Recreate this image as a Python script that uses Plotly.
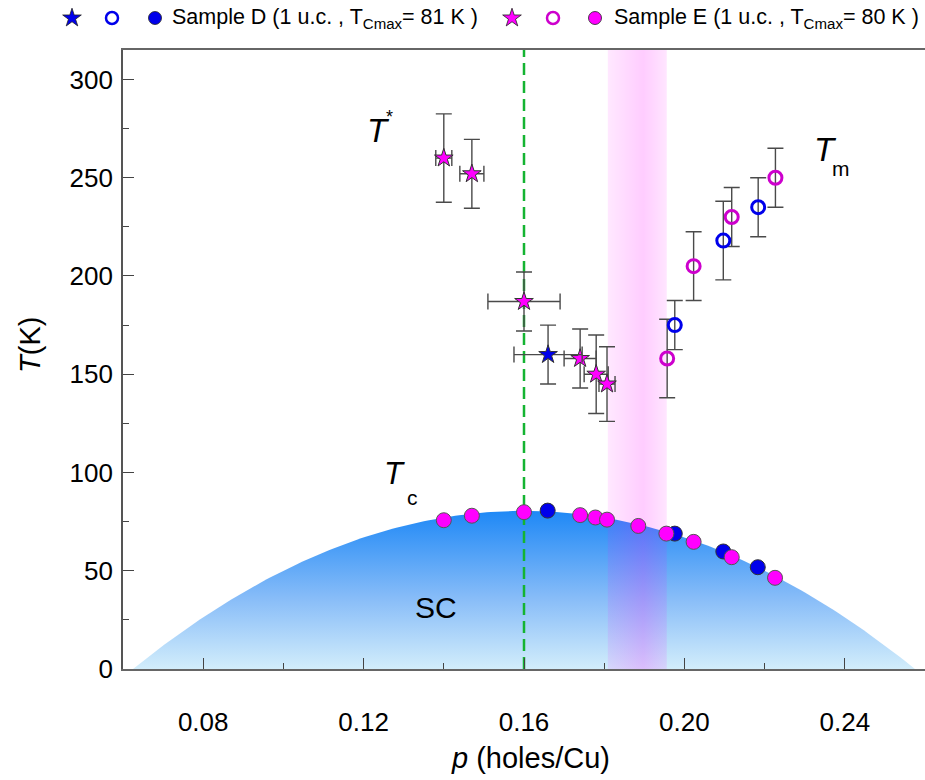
import plotly.graph_objects as go
import numpy as np

# ---------------- data ----------------
# T* (pseudogap) – stars
tstar_E_p = [0.140, 0.147, 0.160, 0.174, 0.178, 0.1807]
tstar_E_T = [260, 252, 187, 158, 150, 145]
tstar_E_dT = [22.5, 17.5, 15, 15, 20, 19]
tstar_E_dp = [0.002, 0.003, 0.009, 0.004, 0.003, 0.002]

tstar_D_p = [0.166]
tstar_D_T = [160]
tstar_D_dT = [15]
tstar_D_dp = [0.0085]

# Tm – open circles
tm_E_p = [0.1957, 0.2023, 0.2118, 0.2227]
tm_E_T = [158, 205, 230, 250]
tm_E_dT = [20, 17.5, 15, 15]

tm_D_p = [0.1976, 0.2097, 0.2184]
tm_D_T = [175, 218, 235]
tm_D_dT = [12.5, 20, 15]

# Tc – filled circles
tc_E_p = [0.140, 0.147, 0.160, 0.174, 0.1778, 0.1807, 0.1885, 0.1955, 0.2023, 0.2118, 0.2226]
tc_E_T = [75.7, 78, 79.8, 78.3, 77.1, 76, 72.8, 68.9, 64.7, 56.9, 46.4]
tc_D_p = [0.1659, 0.1976, 0.2097, 0.2183]
tc_D_T = [80.6, 68.9, 59.8, 51.8]

# SC dome (Tc = Tcmax [1 - ((p - p_opt)/w)^2])
dome_Tcmax = 80.5
dome_popt = 0.16
dome_halfwidth = 0.0975

# shaded band and dashed line
band_p = [0.1809, 0.1956]
dashed_p = 0.16

x_ticks = [0.08, 0.12, 0.16, 0.20, 0.24]
x_ticklabels = ["0.08", "0.12", "0.16", "0.20", "0.24"]
y_ticks = [0, 50, 100, 150, 200, 250, 300]

X_RANGE = [0.06, 0.26]
Y_RANGE = [0, 315]

W, H = 925, 780
L, R, T, B = 123, 925, 50, 669  # plot area pixel box

BLUE = "rgb(0,0,235)"
MAG = "rgb(255,0,255)"
MAG_OPEN = "rgb(205,0,205)"
EB = "#4a4a4a"

fig = go.Figure()

# SC dome
pd_ = np.linspace(dome_popt - dome_halfwidth, dome_popt + dome_halfwidth, 200)
td_ = dome_Tcmax * (1 - ((pd_ - dome_popt) / dome_halfwidth) ** 2)
fig.add_trace(go.Scatter(
    x=list(pd_) + [pd_[-1], pd_[0]], y=list(td_) + [0, 0],
    mode="lines", line=dict(width=0), fill="toself",
    fillgradient=dict(type="vertical", start=0, stop=dome_Tcmax,
                      colorscale=[[0, "rgb(210,237,251)"], [0.45, "rgb(135,188,248)"],
                                  [1, "rgb(30,136,246)"]]),
    hoverinfo="skip", showlegend=False))

# pink band
fig.add_trace(go.Scatter(
    x=[band_p[0], band_p[1], band_p[1], band_p[0], band_p[0]],
    y=[Y_RANGE[0], Y_RANGE[0], Y_RANGE[1], Y_RANGE[1], Y_RANGE[0]],
    mode="lines", line=dict(width=0), fill="toself",
    fillgradient=dict(type="horizontal", start=band_p[0], stop=band_p[1],
                      colorscale=[[0, "rgba(255,0,255,0.09)"], [0.6, "rgba(255,0,255,0.2)"],
                                  [1, "rgba(255,0,255,0.10)"]]),
    hoverinfo="skip", showlegend=False))

# dashed green line
fig.add_trace(go.Scatter(
    x=[dashed_p, dashed_p], y=Y_RANGE, mode="lines",
    line=dict(color="rgb(20,180,50)", width=2.5, dash="12px,6px"),
    hoverinfo="skip", showlegend=False))

eb_y = lambda arr: dict(type="data", array=arr, color=EB, thickness=1.4, width=8)

# Tm open circles
fig.add_trace(go.Scatter(x=tm_E_p, y=tm_E_T, mode="markers",
                         error_y=eb_y(tm_E_dT),
                         marker=dict(symbol="circle-open", size=13, color=MAG_OPEN, line=dict(width=3, color=MAG_OPEN)),
                         showlegend=False))
fig.add_trace(go.Scatter(x=tm_D_p, y=tm_D_T, mode="markers",
                         error_y=eb_y(tm_D_dT),
                         marker=dict(symbol="circle-open", size=13, color=BLUE, line=dict(width=3, color=BLUE)),
                         showlegend=False))

# T* stars
fig.add_trace(go.Scatter(x=tstar_E_p, y=tstar_E_T, mode="markers",
                         error_y=eb_y(tstar_E_dT), error_x=eb_y(tstar_E_dp),
                         marker=dict(symbol="star", size=14, color=MAG, line=dict(width=1, color="#333")),
                         showlegend=False))
fig.add_trace(go.Scatter(x=tstar_D_p, y=tstar_D_T, mode="markers",
                         error_y=eb_y(tstar_D_dT), error_x=eb_y(tstar_D_dp),
                         marker=dict(symbol="star", size=14, color=BLUE, line=dict(width=1, color="#333")),
                         showlegend=False))

# Tc filled circles
fig.add_trace(go.Scatter(x=tc_D_p, y=tc_D_T, mode="markers",
                         marker=dict(symbol="circle", size=15, color=BLUE, line=dict(width=1, color="#333")),
                         showlegend=False))
fig.add_trace(go.Scatter(x=tc_E_p, y=tc_E_T, mode="markers",
                         marker=dict(symbol="circle", size=15, color=MAG, line=dict(width=1, color="#555")),
                         showlegend=False))

# ---------- legend row (pixel overlay axes) ----------
leg_y = 18
leg_syms = [("star", BLUE, 72, 14), ("circle-open", BLUE, 112, 12), ("circle", BLUE, 155, 13),
            ("star", MAG, 512, 14), ("circle-open", MAG_OPEN, 553, 12), ("circle", MAG, 595, 13)]
for sym, col, px, sz in leg_syms:
    fig.add_trace(go.Scatter(
        x=[px], y=[leg_y], xaxis="x2", yaxis="y2", mode="markers",
        marker=dict(symbol=sym, size=sz, color=col,
                    line=dict(width=2.5 if "open" in sym else 0.8, color=col if "open" in sym else "#222")),
        showlegend=False, hoverinfo="skip"))

FONT = "Liberation Sans, Arial, sans-serif"

def px2paper(x, y):
    return x / W, 1 - y / H

ann = []
def add_text(text, x, y, size, xanchor="left", yanchor="middle", italic=False):
    xp, yp = px2paper(x, y)
    ann.append(dict(text=f"<i>{text}</i>" if italic else text, x=xp, y=yp, xref="paper", yref="paper",
                    xanchor=xanchor, yanchor=yanchor, showarrow=False,
                    font=dict(family=FONT, size=size, color="black")))

# legend texts
add_text("Sample D (1 u.c. , T<sub>Cmax</sub>= 81 K )", 170, leg_y, 21.5)
add_text("Sample E (1 u.c. , T<sub>Cmax</sub>= 80 K )", 612, leg_y, 21.5)

# labels in plot
add_text("T", 365, 131, 33, italic=True)
add_text("*", 384, 117, 18)
add_text("T", 812, 149, 33, italic=True)
add_text("m", 830, 168, 21)
add_text("T", 382, 474, 31, italic=True)
add_text("c", 405, 498, 21)
add_text("SC", 436, 607, 30, xanchor="center")

# axis titles
add_text("<i>p</i> (holes/Cu)", 530, 758, 29, xanchor="center")
xp, yp = px2paper(30, 345)
ann.append(dict(text="<i>T</i>(K)", x=xp, y=yp, xref="paper", yref="paper", textangle=-90,
                xanchor="center", yanchor="middle", showarrow=False,
                font=dict(family=FONT, size=29, color="black")))

fig.update_layout(
    width=W, height=H,
    margin=dict(l=0, r=0, t=0, b=0, pad=0, autoexpand=False),
    paper_bgcolor="white", plot_bgcolor="rgba(0,0,0,0)",
    annotations=ann,
    xaxis=dict(domain=[L / W, R / W], range=X_RANGE, tickmode="array", tickvals=x_ticks, automargin=False,
               ticktext=x_ticklabels, ticks="inside", ticklen=11, tickwidth=1.3, tickcolor="#444",
               showline=True, linecolor="#666", linewidth=1.6, mirror=True, showgrid=False, zeroline=False,
               tickfont=dict(family=FONT, size=26, color="black"), ticklabelstandoff=29,
               minor=dict(tickvals=[0.10, 0.14, 0.18, 0.22], ticks="inside", ticklen=6,
                          tickwidth=1.2, tickcolor="#444", showgrid=False)),
    yaxis=dict(domain=[(H - B) / H, (H - T) / H], range=Y_RANGE, tickmode="array", tickvals=y_ticks,
               automargin=False,
               ticks="inside", ticklen=11, tickwidth=1.3, tickcolor="#444",
               showline=True, linecolor="#555", linewidth=1.6, showgrid=False, zeroline=False,
               tickfont=dict(family=FONT, size=26, color="black"), ticklabelstandoff=3,
               minor=dict(tickvals=[25, 75, 125, 175, 225, 275], ticks="inside", ticklen=6,
                          tickwidth=1.2, tickcolor="#444", showgrid=False)),
    xaxis2=dict(domain=[0, 1], range=[0, W], visible=False, anchor="y2", fixedrange=True, automargin=False),
    yaxis2=dict(domain=[0, 1], range=[H, 0], visible=False, anchor="x2", fixedrange=True, automargin=False),
    showlegend=False,
)

fig.write_html("out.html")
